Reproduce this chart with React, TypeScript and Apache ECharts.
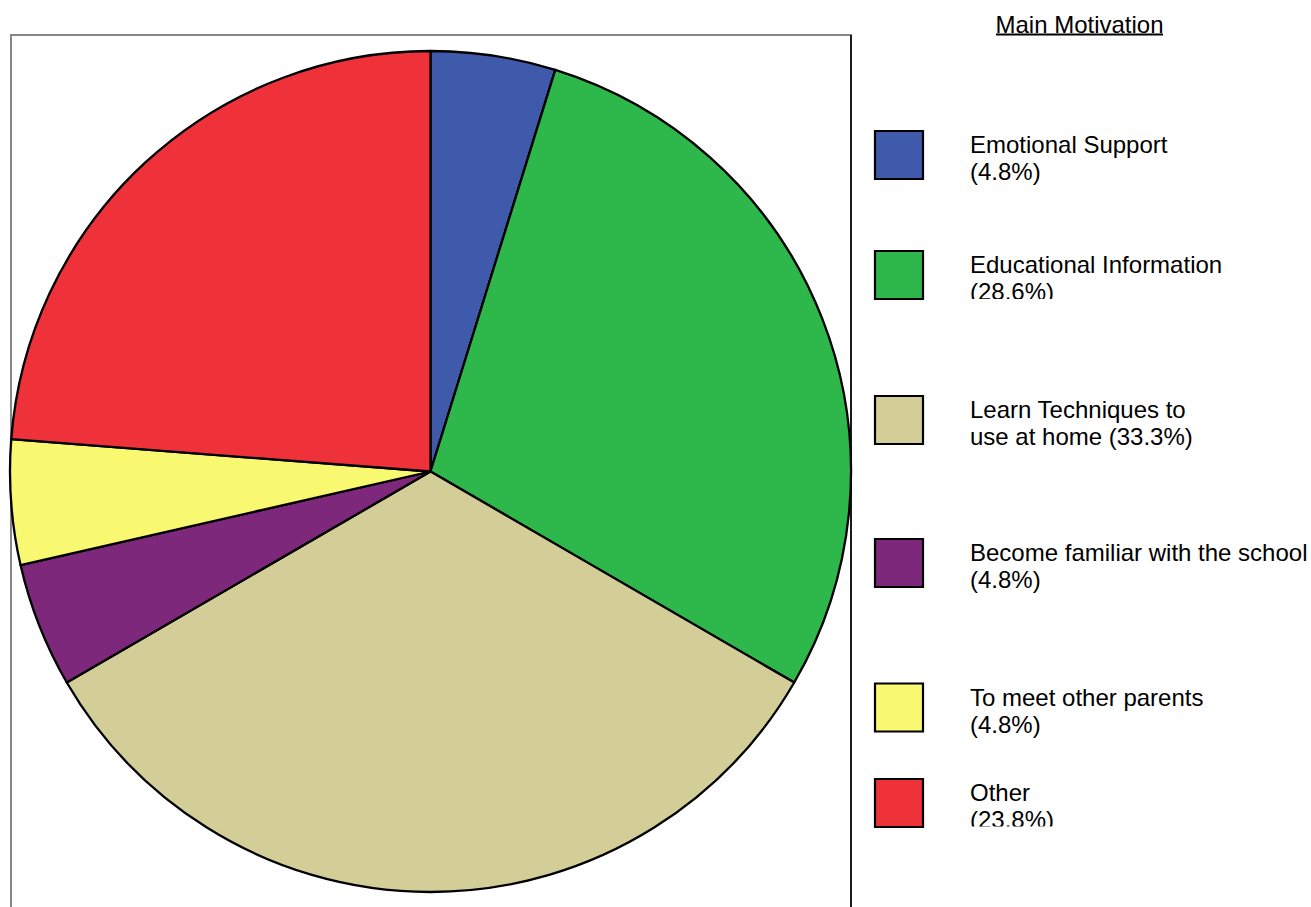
import React, { useEffect, useRef } from "react";
import * as echarts from "echarts";

// ---- data ----
const categories = [
  "Emotional Support",
  "Educational Information",
  "Learn Techniques to use at home",
  "Become familiar with the school",
  "To meet other parents",
  "Other",
];
const percents = [4.8, 28.6, 33.3, 4.8, 4.8, 23.8];
const legendLine1 = [
  "Emotional Support",
  "Educational Information",
  "Learn Techniques to",
  "Become familiar with the school",
  "To meet other parents",
  "Other",
];
const legendLine2Prefix = ["", "", "use at home ", "", "", ""];
const legendTitle = "Main Motivation";

// ---- styles / layout ----
const colors = ["#3F5AAB", "#2EB74A", "#D3CE98", "#7D287B", "#F9F871", "#EF323A"];
const legendBoxTops = [130, 250, 395, 538, 682.5, 778];
const legendClipBottoms: (number | null)[] = [null, 299, null, null, null, 826.5];
const FONT = "Liberation Sans, Arial, Helvetica, sans-serif";

export default function App() {
  const ref = useRef<HTMLDivElement>(null);

  useEffect(() => {
    if (!ref.current) return;
    const chart = echarts.init(ref.current, null, { renderer: "svg" });

    const graphics: any[] = [];
    // frame
    graphics.push({
      type: "line",
      z: 0,
      shape: { x1: 10, y1: 35, x2: 852, y2: 35 },
      style: { stroke: "#868686", lineWidth: 2 },
      silent: true,
    });
    graphics.push({
      type: "line",
      z: 0,
      shape: { x1: 11, y1: 34, x2: 11, y2: 910 },
      style: { stroke: "#868686", lineWidth: 2 },
      silent: true,
    });
    graphics.push({
      type: "line",
      z: 0,
      shape: { x1: 851, y1: 35, x2: 851, y2: 910 },
      style: { stroke: "#1a1a1a", lineWidth: 2 },
      silent: true,
    });
    // title
    graphics.push({
      type: "text",
      z: 5,
      x: 1079.5,
      y: 24.5,
      style: {
        text: legendTitle,
        font: `24px ${FONT}`,
        fill: "#000",
        align: "center",
        verticalAlign: "middle",
      },
      silent: true,
    });
    graphics.push({
      type: "line",
      z: 5,
      shape: { x1: 996, y1: 34.5, x2: 1163, y2: 34.5 },
      style: { stroke: "#000", lineWidth: 2 },
      silent: true,
    });

    categories.forEach((_, i) => {
      const top = legendBoxTops[i];
      graphics.push({
        type: "rect",
        z: 5,
        shape: { x: 875, y: top + 1, width: 48, height: 48 },
        style: { fill: colors[i], stroke: "#000", lineWidth: 2.2 },
        silent: true,
      });
      const c1 = top + 14.5;
      graphics.push({
        type: "text",
        z: 5,
        x: 970,
        y: c1,
        style: {
          text: legendLine1[i],
          font: `24px ${FONT}`,
          fill: "#000",
          align: "left",
          verticalAlign: "middle",
        },
        silent: true,
      });
      graphics.push({
        type: "text",
        z: 5,
        x: 970,
        y: c1 + 27,
        style: {
          text: `${legendLine2Prefix[i]}(${percents[i].toFixed(1)}%)`,
          font: `24px ${FONT}`,
          fill: "#000",
          align: "left",
          verticalAlign: "middle",
        },
        silent: true,
      });
      const clip = legendClipBottoms[i];
      if (clip !== null) {
        graphics.push({
          type: "rect",
          z: 6,
          shape: { x: 960, y: clip, width: 300, height: 14 },
          style: { fill: "#fff" },
          silent: true,
        });
      }
    });

    chart.setOption({
      animation: false,
      backgroundColor: "#fff",
      tooltip: { show: false },
      graphic: { elements: graphics },
      series: [
        {
          type: "pie",
          z: 3,
          center: [430.5, 471.5],
          radius: [0, 420.5],
          startAngle: 90,
          clockwise: true,
          silent: true,
          label: { show: false },
          labelLine: { show: false },
          emphasis: { disabled: true },
          itemStyle: { borderColor: "#000", borderWidth: 2.3 },
          data: categories.map((name, i) => ({
            name,
            value: percents[i],
            itemStyle: { color: colors[i] },
          })),
        },
      ],
    });

    return () => {
      chart.dispose();
    };
  }, []);

  return (
    <div
      ref={ref}
      style={{ position: "absolute", left: 0, top: 0, width: 1311, height: 907 }}
    />
  );
}
